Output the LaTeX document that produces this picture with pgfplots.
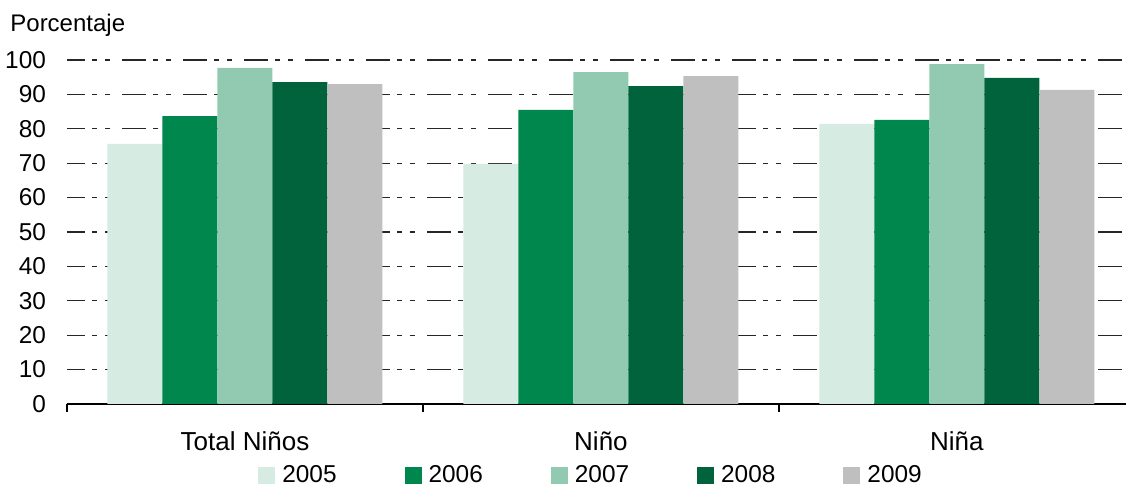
\documentclass[border=0pt]{standalone}
\usepackage{pgfplots}
\pgfplotsset{compat=1.18}
\usepackage{fontspec}
\setmainfont{Liberation Sans}

\definecolor{c2005}{RGB}{214,235,226}
\definecolor{c2006}{RGB}{0,135,77}
\definecolor{c2007}{RGB}{146,201,177}
\definecolor{c2008}{RGB}{0,99,60}
\definecolor{c2009}{RGB}{191,191,191}

\begin{document}
\begin{tikzpicture}
\useasboundingbox (0,0) rectangle (563pt,243pt);
\node[anchor=base west, font=\fontsize{12}{14}\selectfont, inner sep=0pt] at (5pt,227pt) {Porcentaje};
\begin{axis}[
    at={(33.5pt,41pt)}, anchor=south west,
    scale only axis,
    width=529.5pt, height=172pt,
    ybar=0pt, bar width=0.1545,
    xmin=-0.5, xmax=2.475,
    ymin=0, ymax=100,
    ytick={0,10,...,100},
    xtick={0,1,2},
    xticklabels={Total Niños, Niño, Niña},
    minor xtick={-0.5,0.5,1.5,2.5},
    major tick length=0pt,
    minor tick length=4pt,
    tick align=outside,
    tick pos=lower,
    axis lines*=left,
    x axis line style={black, line width=0.75pt},
    y axis line style={draw=none},
    ytick style={draw=none},
    minor x tick style={black, line width=0.75pt},
    ymajorgrids=true,
    grid style={black!85, line width=0.6pt,
        dash pattern=on 12pt off 3.5pt on 2.5pt off 4pt on 2.5pt off 6pt,
        dash phase=3pt},
    tick label style={font=\fontsize{12.2}{14}\selectfont},
    /pgf/number format/assume math mode=true,
    yticklabel style={xshift=-7pt},
    xticklabel style={anchor=base, yshift=-23.5pt, font=\fontsize{13}{15}\selectfont},
    legend columns=5,
    legend style={at={(0.4953,-0.209)}, anchor=center, draw=none,
        inner sep=0pt, font=\fontsize{12.2}{14}\selectfont,
        nodes={inner sep=1.5pt},
        /tikz/every even column/.append style={column sep=32.5pt}},
    legend image code/.code={\fill[#1] (0pt,-4.25pt) rectangle (8.5pt,4.25pt); \path (10.5pt,0pt);},
]
\addplot[fill=c2005, draw=none] coordinates {(0,75.6) (1,69.8) (2,81.4)};
\addplot[fill=c2006, draw=none] coordinates {(0,83.7) (1,85.5) (2,82.6)};
\addplot[fill=c2007, draw=none] coordinates {(0,97.7) (1,96.5) (2,98.8)};
\addplot[fill=c2008, draw=none] coordinates {(0,93.6) (1,92.4) (2,94.8)};
\addplot[fill=c2009, draw=none] coordinates {(0,93.0) (1,95.3) (2,91.3)};
\legend{2005,2006,2007,2008,2009}
\end{axis}
\end{tikzpicture}
\end{document}
